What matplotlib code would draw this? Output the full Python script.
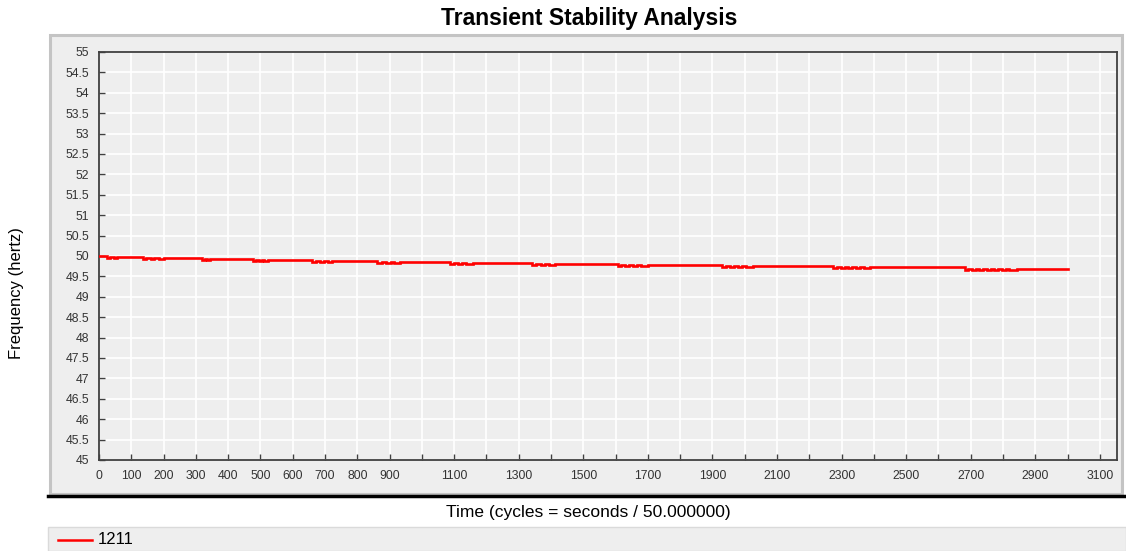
import matplotlib
matplotlib.use("Agg")
import matplotlib.pyplot as plt
from matplotlib.patches import Rectangle
from matplotlib.lines import Line2D

plt.rcParams['font.family'] = ['Liberation Sans', 'DejaVu Sans']

# ---- data ----
series_name = "1211"
start_time = 0
end_time = 3000
# frequency level held after each disturbance cluster (first = initial level)
levels = [50.00, 49.975, 49.95, 49.93, 49.905, 49.88, 49.85, 49.83,
          49.805, 49.78, 49.755, 49.725, 49.69]
# toggle times (cycles) inside each cluster: dip, recover, dip, recover ...
clusters = [
    [25, 33, 45, 55],
    [136, 147, 160, 170, 185, 200],
    [319, 327, 335, 344],
    [477, 487, 495, 505, 512, 523],
    [660, 672, 685, 697, 708, 722],
    [861, 875, 890, 903, 915, 932],
    [1087, 1100, 1112, 1125, 1138, 1158],
    [1341, 1355, 1368, 1382, 1395, 1412],
    [1607, 1618, 1630, 1642, 1655, 1667, 1680, 1700],
    [1929, 1941, 1953, 1966, 1978, 1991, 2003, 2025],
    [2273, 2285, 2297, 2309, 2321, 2333, 2345, 2357, 2369, 2388],
    [2682, 2693, 2704, 2716, 2727, 2739, 2750, 2762, 2773, 2785, 2796, 2808, 2819, 2843],
]
dip_depth = 0.025

x_ticks = list(range(0, 3101, 100))
x_labeled = [0, 100, 200, 300, 400, 500, 600, 700, 800, 900,
             1100, 1300, 1500, 1700, 1900, 2100, 2300, 2500, 2700, 2900, 3100]
y_ticks = [45 + 0.5 * i for i in range(21)]
y_labels = ["45", "45.5", "46", "46.5", "47", "47.5", "48", "48.5", "49", "49.5",
            "50", "50.5", "51", "51.5", "52", "52.5", "53", "53.5", "54", "54.5", "55"]

title = "Transient Stability Analysis"
xlabel = "Time (cycles = seconds / 50.000000)"
ylabel = "Frequency (hertz)"

# ---- build step polyline from the read values ----
t = [start_time]
f = [levels[0]]
cur = levels[0]
for i, toggles in enumerate(clusters):
    new = levels[i + 1]
    low = new - dip_depth
    for k, tt in enumerate(toggles):
        nxt = low if k % 2 == 0 else new
        t += [tt, tt]
        f += [cur, nxt]
        cur = nxt
t.append(end_time)
f.append(cur)

# ---- figure ----
W, H = 1126, 551
fig = plt.figure(figsize=(W / 100, H / 100), dpi=100)
fig.patch.set_facecolor('white')

def fx(px):
    return px / W

def fy(py):
    return 1 - py / H

panel_bg = '#EEEEEE'
# main panel
fig.add_artist(Rectangle((fx(50), fy(494)), fx(1122) - fx(50), fy(35) - fy(494),
                         transform=fig.transFigure, facecolor=panel_bg,
                         edgecolor='#C4C4C4', linewidth=2.2, zorder=0))
# shadow line under panel
fig.add_artist(Line2D([fx(48), fx(1126)], [fy(496), fy(496)], transform=fig.transFigure,
                      color='black', linewidth=2.5, zorder=1))
# legend strip
fig.add_artist(Rectangle((fx(48), fy(551)), fx(1126) - fx(48), fy(527) - fy(551),
                         transform=fig.transFigure, facecolor=panel_bg,
                         edgecolor='#DADADA', linewidth=1.0, zorder=0))

ax = fig.add_axes([fx(99), fy(460), fx(1117) - fx(99), fy(52) - fy(460)])
ax.set_facecolor(panel_bg)
ax.plot(t, f, color='#FF0000', linewidth=1.9, solid_joinstyle='miter', zorder=3)

ax.set_xlim(0, 3153)
ax.set_ylim(45, 55)
ax.set_xticks(x_ticks)
ax.set_xticklabels([str(v) if v in x_labeled else "" for v in x_ticks])
ax.set_yticks(y_ticks)
ax.set_yticklabels(y_labels)
ax.grid(True, color='white', linewidth=1.2)
ax.set_axisbelow(True)
ax.tick_params(direction='in', length=4, width=1, color='#404040',
               labelsize=8.8, labelcolor='#333333', pad=7)
for s in ax.spines.values():
    s.set_color('#404040')
    s.set_linewidth(1.3)

fig.text(fx(589), fy(19), title, ha='center', va='center', fontsize=16.5,
         fontweight='bold', color='black')
fig.text(fx(588), fy(512), xlabel, ha='center', va='center', fontsize=12.5, color='black')
fig.text(fx(17), fy(293), ylabel, ha='center', va='center', rotation=90,
         fontsize=12, color='black')

# legend entry
fig.add_artist(Line2D([fx(58), fx(92)], [fy(540), fy(540)], transform=fig.transFigure,
                      color='#FF0000', linewidth=1.8))
fig.text(fx(98), fy(540), series_name, ha='left', va='center', fontsize=12, color='black')

fig.savefig('out.png', dpi=100, facecolor='white')
